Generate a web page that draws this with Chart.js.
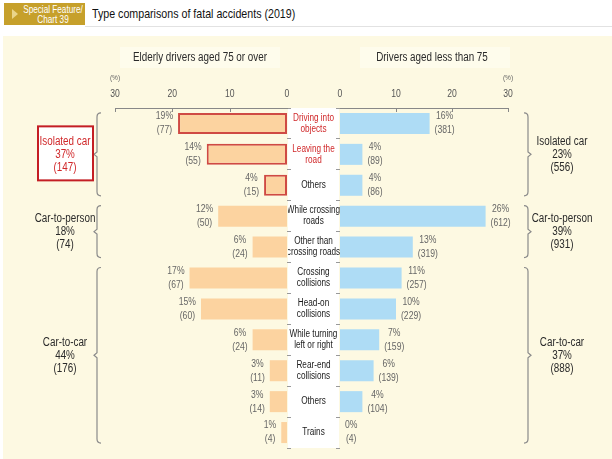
<!DOCTYPE html>
<html>
<head>
<meta charset="utf-8">
<script src="https://cdn.jsdelivr.net/npm/chart.js@4.4.1/dist/chart.umd.min.js"></script>
<style>
  html, body { margin: 0; padding: 0; background: #fff; }
  #wrap { position: relative; width: 612px; height: 459px; overflow: hidden; background: #fff;
          font-family: "Liberation Sans", Arial, sans-serif; }
  .badge { position: absolute; left: 4px; top: 3px; width: 81px; height: 22px; background: #c6a02b; }
  .tri { position: absolute; left: 8px; top: 6px; width: 0; height: 0;
         border-top: 5px solid transparent; border-bottom: 5px solid transparent; border-left: 6px solid #ead58a; }
  .btxt { position: absolute; left: 49px; top: 1px; width: 100px; margin-left: -50px; color: #fff;
          font-size: 10.5px; line-height: 10px; text-align: center; white-space: nowrap;
          transform: scaleX(0.78); transform-origin: 50% 0; }
  .title { position: absolute; left: 92px; top: 6px; font-size: 13px; color: #111; white-space: nowrap;
           transform: scaleX(0.82); transform-origin: 0 0; }
  .rule { position: absolute; left: 85px; right: 0; top: 26px; height: 1px; background: #e2e2e2; }
  .panel { position: absolute; left: 3px; top: 36px; right: 0; bottom: 0; background: #fdf9e2; }
  .hbox { position: absolute; background: #fefcec; }
  .mid { position: absolute; left: 288px; top: 108px; width: 51px; height: 340px; background: #fff; }
  canvas { position: absolute; left: 0; top: 0; }
</style>
</head>
<body>
<div id="wrap">
  <div class="badge"><div class="tri"></div><div class="btxt">Special Feature/<br>Chart 39</div></div>
  <div class="title">Type comparisons of fatal accidents (2019)</div>
  <div class="rule"></div>
  <div class="panel"></div>
  <div class="hbox" style="left:120px;top:47px;width:160px;height:21px;"></div>
  <div class="hbox" style="left:360px;top:47px;width:150px;height:21px;"></div>
  <div class="mid"></div>
  <canvas id="left" width="612" height="459"></canvas>
  <canvas id="right" width="612" height="459"></canvas>
</div>
<script>
// ---- data ----
const categories = [
  ['Driving into', 'objects'], ['Leaving the', 'road'], 'Others',
  ['While crossing', 'roads'], ['Other than', 'crossing roads'],
  ['Crossing', 'collisions'], ['Head-on', 'collisions'], ['While turning', 'left or right'],
  ['Rear-end', 'collisions'], 'Others', 'Trains'
];
const elderlyPct   = [19, 14, 4, 12, 6, 17, 15, 6, 3, 3, 1];
const elderlyCount = [77, 55, 15, 50, 24, 67, 60, 24, 11, 14, 4];
const youngerPct   = [16, 4, 4, 26, 13, 11, 10, 7, 6, 4, 0];
const youngerCount = [381, 89, 86, 612, 319, 257, 229, 159, 139, 104, 4];

const groupNames  = ['Isolated car', 'Car-to-person', 'Car-to-car'];
const groupFirst  = [0, 3, 5];
const groupLast   = [2, 4, 10];
const elderlyGroupPct   = [37, 18, 44];
const elderlyGroupCount = [147, 74, 176];
const youngerGroupPct   = [23, 39, 37];
const youngerGroupCount = [556, 931, 888];

const axisTicks = [0, 10, 20, 30];
const panelTitles = ['Elderly drivers aged 75 or over', 'Drivers aged less than 75'];

// ---- styling ----
const FAM = '"Liberation Sans", Arial, sans-serif';
const NARROW = 0.82;          // horizontal squeeze for a condensed look
const RED = '#d0282a';
const GREY = '#666';
const redLabel = [true, true, false, false, false, false, false, false, false, false, false];
const outlined = [true, true, true, false, false, false, false, false, false, false, false];

// condensed canvas text: every string is drawn at NARROW of its natural width
const narrowText = {
  id: 'narrowText',
  beforeInit(chart) {
    const ctx = chart.ctx;
    const fill = ctx.fillText.bind(ctx);
    ctx.fillText = (t, x, y, mw) =>
      fill(t, x, y, mw !== undefined ? mw : Math.max(0.1, ctx.measureText(t).width * NARROW));
  }
};

// curly bracket; dir = +1 opens to the right, -1 opens to the left
function brace(ctx, x, y1, y2, dir) {
  const r = 4, mid = (y1 + y2) / 2;
  ctx.beginPath();
  ctx.moveTo(x + dir * r, y1);
  ctx.quadraticCurveTo(x, y1, x, y1 + r);
  ctx.lineTo(x, mid - 2.5);
  ctx.lineTo(x - dir * 3, mid);
  ctx.lineTo(x, mid + 2.5);
  ctx.lineTo(x, y2 - r);
  ctx.quadraticCurveTo(x, y2, x + dir * r, y2);
  ctx.stroke();
}

// percentage / count labels next to each bar
function valueLabels(pct, count, dir) {
  return {
    id: 'valueLabels',
    afterDatasetsDraw(chart) {
      const ctx = chart.ctx;
      ctx.save();
      ctx.font = `10.5px ${FAM}`;
      ctx.fillStyle = GREY;
      ctx.textAlign = 'center';
      ctx.textBaseline = 'middle';
      chart.getDatasetMeta(0).data.forEach((bar, i) => {
        const l1 = pct[i] + '%', l2 = '(' + count[i] + ')';
        const w = Math.max(ctx.measureText(l1).width, ctx.measureText(l2).width) * NARROW;
        const cx = bar.x + dir * (5 + w / 2);
        ctx.fillText(l1, cx, bar.y - 7);
        ctx.fillText(l2, cx, bar.y + 7);
      });
      ctx.restore();
    }
  };
}

// group brackets with their totals
function groupLabels(braceX, textX, dir, pct, count, boxedIdx) {
  return {
    id: 'groupLabels',
    afterDraw(chart) {
      const ctx = chart.ctx;
      const ys = chart.scales.y;
      const bars = chart.getDatasetMeta(0).data;
      const half = bars[0].height / 2;
      ctx.save();
      groupNames.forEach((name, g) => {
        const y1 = ys.getPixelForValue(groupFirst[g]) - half;
        const y2 = ys.getPixelForValue(groupLast[g]) + half;
        ctx.strokeStyle = '#8a8a8a';
        ctx.lineWidth = 1.2;
        brace(ctx, braceX, y1, y2, dir);
        const mid = (y1 + y2) / 2;
        const boxed = g === boxedIdx;
        if (boxed) {
          ctx.fillStyle = '#fff';
          ctx.fillRect(textX - 27, mid - 28, 55, 54);
          ctx.strokeStyle = '#c41e24';
          ctx.lineWidth = 2;
          ctx.strokeRect(textX - 27, mid - 28, 55, 54);
        }
        ctx.font = `12px ${FAM}`;
        ctx.fillStyle = boxed ? RED : '#2a2a2a';
        ctx.textAlign = 'center';
        ctx.textBaseline = 'middle';
        ctx.fillText(name, textX, mid - 13);
        ctx.fillText(pct[g] + '%', textX, mid);
        ctx.fillText('(' + count[g] + ')', textX, mid + 13);
      });
      ctx.restore();
    }
  };
}

// axis line ticks pointing into the plot, unit mark and panel title
function axisDeco(title, titleX, unitAt) {
  return {
    id: 'axisDeco',
    afterDraw(chart) {
      const ctx = chart.ctx;
      const xs = chart.scales.x;
      const top = chart.chartArea.top;
      ctx.save();
      ctx.strokeStyle = '#888';
      ctx.lineWidth = 1;
      axisTicks.forEach(v => {
        if (v === 0) return;
        const px = Math.round(xs.getPixelForValue(v)) + 0.5;
        ctx.beginPath();
        ctx.moveTo(px, top);
        ctx.lineTo(px, top + 4);
        ctx.stroke();
      });
      ctx.fillStyle = GREY;
      ctx.font = `8px ${FAM}`;
      ctx.textAlign = 'center';
      ctx.textBaseline = 'middle';
      ctx.fillText('(%)', xs.getPixelForValue(unitAt), 78);
      ctx.fillStyle = '#2a2a2a';
      ctx.font = `12px ${FAM}`;
      ctx.fillText(title, titleX, 58);
      ctx.restore();
    }
  };
}

const tickFont = { family: FAM, size: 10.5 };
const catFont = { family: FAM, size: 10, lineHeight: 1.1 };

// centre the category names inside the white middle column
const meas = document.createElement('canvas').getContext('2d');
meas.font = `normal 10px ${FAM}`;
let widest = 0;
categories.forEach(c => [].concat(c).forEach(s => { widest = Math.max(widest, meas.measureText(s).width); }));
const catPadding = (340 - 4 - 313.5) - widest / 2;

const xScaleBase = {
  type: 'linear',
  position: 'top',
  min: 0, max: 30,
  afterBuildTicks: s => { s.ticks = axisTicks.map(v => ({ value: v })); },
  afterFit: s => { s.height = 108; },
  grid: { display: false },
  border: { display: true, color: '#888', width: 1 },
  ticks: { font: tickFont, color: '#555', padding: 0, maxRotation: 0 }
};

// left panel: elderly drivers, bars growing leftwards
new Chart(document.getElementById('left'), {
  type: 'bar',
  data: {
    labels: categories,
    datasets: [{
      data: elderlyPct,
      backgroundColor: '#fcd3a0',
      borderColor: '#cf4a44',
      borderWidth: outlined.map(h => h ? 2 : 0),
      borderSkipped: false,
      barPercentage: 0.68,
      categoryPercentage: 1
    }]
  },
  options: {
    indexAxis: 'y',
    responsive: false,
    animation: false,
    layout: { padding: { left: 115, right: 325, top: 0, bottom: 11 } },
    scales: {
      x: Object.assign({}, xScaleBase, { reverse: true }),
      y: {
        position: 'right',
        afterFit: s => { s.width = 0; },
        ticks: { display: false },
        grid: { display: true, drawOnChartArea: false, drawTicks: true, tickLength: 4, color: '#999', offset: true },
        border: { display: false }
      }
    },
    plugins: { legend: { display: false }, tooltip: { enabled: false } }
  },
  plugins: [
    narrowText,
    valueLabels(elderlyPct, elderlyCount, -1),
    groupLabels(97, 65, 1, elderlyGroupPct, elderlyGroupCount, 0),
    axisDeco(panelTitles[0], 200, 30)
  ]
});

// right panel: drivers under 75, bars growing rightwards; category names on its axis
new Chart(document.getElementById('right'), {
  type: 'bar',
  data: {
    labels: categories,
    datasets: [{
      data: youngerPct,
      backgroundColor: '#aedcf5',
      borderWidth: 0,
      barPercentage: 0.68,
      categoryPercentage: 1
    }]
  },
  options: {
    indexAxis: 'y',
    responsive: false,
    animation: false,
    layout: { padding: { left: 288, right: 104, top: 0, bottom: 11 } },
    scales: {
      x: Object.assign({}, xScaleBase),
      y: {
        position: 'left',
        afterFit: s => { s.width = 52; },
        ticks: {
          font: catFont,
          color: ctx => redLabel[ctx.index] ? RED : '#1a1a1a',
          crossAlign: 'center',
          padding: catPadding,
          autoSkip: false
        },
        grid: { display: true, drawOnChartArea: false, drawTicks: true, tickLength: 4, color: '#999', offset: true },
        border: { display: false }
      }
    },
    plugins: { legend: { display: false }, tooltip: { enabled: false } }
  },
  plugins: [
    narrowText,
    valueLabels(youngerPct, youngerCount, 1),
    groupLabels(528, 562, -1, youngerGroupPct, youngerGroupCount, -1),
    axisDeco(panelTitles[1], 432, 30)
  ]
});
</script>
</body>
</html>
